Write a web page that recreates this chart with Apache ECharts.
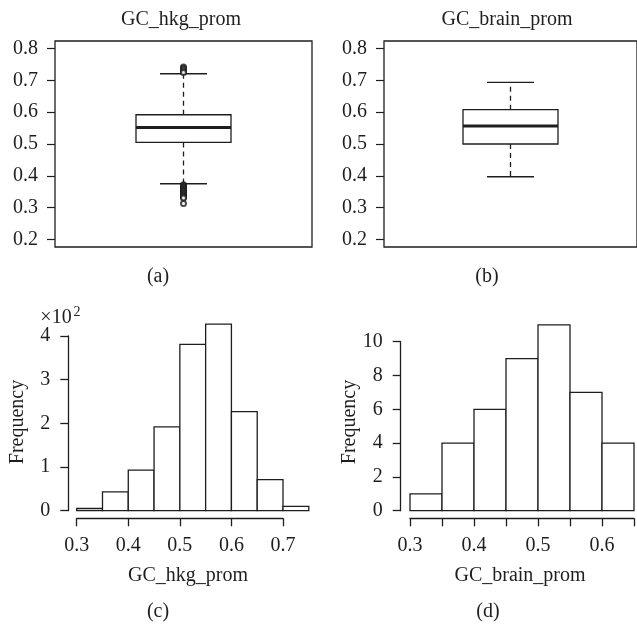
<!DOCTYPE html>
<html>
<head>
<meta charset="utf-8">
<script src="https://cdn.jsdelivr.net/npm/echarts@6/dist/echarts.min.js"></script>
<style>html,body{margin:0;padding:0;background:#fff}#c{width:637px;height:628px}</style>
</head>
<body>
<div id="c"></div>
<script>
// ---- data ----
const boxTitles = ['GC_hkg_prom', 'GC_brain_prom'];
// [min whisker, Q1, median, Q3, max whisker]
const hkgBox = [0.375, 0.505, 0.552, 0.592, 0.721];
const brainBox = [0.397, 0.500, 0.557, 0.608, 0.694];
const hkgOutliers = [0.742, 0.738, 0.734, 0.729, 0.725, 0.372, 0.369, 0.366, 0.363, 0.360, 0.357, 0.354, 0.351, 0.348, 0.345, 0.342, 0.339, 0.336, 0.333, 0.330, 0.313];
const boxTicks = [0.2, 0.3, 0.4, 0.5, 0.6, 0.7, 0.8];

const hkgBinEdges = [0.30, 0.35, 0.40, 0.45, 0.50, 0.55, 0.60, 0.65, 0.70, 0.75];
const hkgCounts = [5, 43, 93, 192, 381, 427, 227, 71, 10];
const brainBinEdges = [0.30, 0.35, 0.40, 0.45, 0.50, 0.55, 0.60, 0.65];
const brainCounts = [1, 4, 6, 9, 11, 7, 4];

// ---- styles ----
const INK = '#1e1e1e';
const FONT = '"Liberation Serif", "DejaVu Serif", serif';
const FS = 20;

function histData(edges, counts) {
  return counts.map((c, i) => [edges[i], edges[i + 1], c]);
}

function renderHist(params, api) {
  const p0 = api.coord([api.value(0), api.value(2)]);
  const p1 = api.coord([api.value(1), 0]);
  return {
    type: 'rect',
    shape: { x: p0[0], y: p0[1], width: p1[0] - p0[0], height: p1[1] - p0[1] },
    style: { fill: '#fff', stroke: INK, lineWidth: 1.3 }
  };
}

function renderBox(params, api) {
  const x = api.value(0);
  const pMin = api.coord([x, api.value(1)]);
  const pQ1 = api.coord([x, api.value(2)]);
  const pMed = api.coord([x, api.value(3)]);
  const pQ3 = api.coord([x, api.value(4)]);
  const pMax = api.coord([x, api.value(5)]);
  const cx = pMed[0];
  const hw = 47.5, cw = 23.5;
  const solid = { stroke: INK, lineWidth: 1.3 };
  const dashed = { stroke: INK, lineWidth: 1.3, lineDash: [5, 4] };
  return {
    type: 'group',
    children: [
      { type: 'line', shape: { x1: cx, y1: pQ3[1], x2: cx, y2: pMax[1] }, style: dashed },
      { type: 'line', shape: { x1: cx, y1: pQ1[1], x2: cx, y2: pMin[1] }, style: dashed },
      { type: 'line', shape: { x1: cx - cw, y1: pMax[1], x2: cx + cw, y2: pMax[1] }, style: solid },
      { type: 'line', shape: { x1: cx - cw, y1: pMin[1], x2: cx + cw, y2: pMin[1] }, style: solid },
      { type: 'rect', shape: { x: cx - hw, y: pQ3[1], width: 2 * hw, height: pQ1[1] - pQ3[1] }, style: { fill: '#fff', stroke: INK, lineWidth: 1.3 } },
      { type: 'line', shape: { x1: cx - hw, y1: pMed[1], x2: cx + hw, y2: pMed[1] }, style: { stroke: INK, lineWidth: 3 } }
    ]
  };
}

const labelStyle = { color: INK, fontFamily: FONT, fontSize: FS };

function boxYAxis(gi) {
  return {
    type: 'value', gridIndex: gi, min: 0.176, max: 0.824, position: 'left',
    axisLine: { show: false, onZero: false },
    splitLine: { show: false },
    axisTick: { show: true, length: 8, customValues: boxTicks, lineStyle: { color: INK, width: 1.2 } },
    axisLabel: Object.assign({ customValues: boxTicks, margin: 17, formatter: v => v.toFixed(1) }, labelStyle)
  };
}
function boxXAxis(gi) {
  return { type: 'value', gridIndex: gi, min: -1, max: 1, show: false, axisLine: { onZero: false } };
}

const chart = echarts.init(document.getElementById('c'), null, { renderer: 'canvas' });

function txt(text, x, y, extra) {
  return Object.assign({
    type: 'text', x: x, y: y,
    style: { text: text, fill: INK, font: FS + 'px ' + FONT, align: 'center', verticalAlign: 'middle' }
  }, extra || {});
}

chart.setOption({
  animation: false,
  backgroundColor: '#fff',
  grid: [
    { left: 55, top: 41, width: 257, height: 206, show: true, borderColor: INK, borderWidth: 1.3, backgroundColor: 'transparent' },
    { left: 384, top: 41, width: 257, height: 206, show: true, borderColor: INK, borderWidth: 1.3, backgroundColor: 'transparent' },
    { left: 76.7, top: 336, width: 206.3, height: 174.7 },
    { left: 410, top: 341.7, width: 232.2, height: 169 }
  ],
  xAxis: [
    boxXAxis(0), boxXAxis(1),
    {
      type: 'value', gridIndex: 2, min: 0.3, max: 0.7, interval: 0.1, offset: 7.6, position: 'bottom',
      splitLine: { show: false },
      axisLine: { onZero: false, lineStyle: { color: INK, width: 1.3 } },
      axisTick: { length: 8, lineStyle: { color: INK, width: 1.3 } },
      axisLabel: Object.assign({ margin: 17, formatter: v => v.toFixed(1) }, labelStyle)
    },
    {
      type: 'value', gridIndex: 3, min: 0.3, max: 0.65, interval: 0.05, offset: 7.6, position: 'bottom',
      splitLine: { show: false },
      axisLine: { onZero: false, lineStyle: { color: INK, width: 1.3 } },
      axisTick: { length: 8, lineStyle: { color: INK, width: 1.3 } },
      axisLabel: Object.assign({ margin: 17, formatter: v => { const k = Math.round(v * 100); return k % 10 === 0 ? (k / 100).toFixed(1) : ''; } }, labelStyle)
    }
  ],
  yAxis: [
    boxYAxis(0), boxYAxis(1),
    {
      type: 'value', gridIndex: 2, min: 0, max: 400, interval: 100, offset: 8.4, position: 'left',
      splitLine: { show: false },
      axisLine: { show: true, onZero: false, lineStyle: { color: INK, width: 1.3 } },
      axisTick: { show: true, length: 8, lineStyle: { color: INK, width: 1.3 } },
      axisLabel: Object.assign({ margin: 18, formatter: v => String(v / 100) }, labelStyle)
    },
    {
      type: 'value', gridIndex: 3, min: 0, max: 10, interval: 2, offset: 9.3, position: 'left',
      splitLine: { show: false },
      axisLine: { show: true, onZero: false, lineStyle: { color: INK, width: 1.3 } },
      axisTick: { show: true, length: 8, lineStyle: { color: INK, width: 1.3 } },
      axisLabel: Object.assign({ margin: 18 }, labelStyle)
    }
  ],
  series: [
    { type: 'custom', xAxisIndex: 0, yAxisIndex: 0, renderItem: renderBox, encode: { x: 0, y: [1, 2, 3, 4, 5] }, data: [[0].concat(hkgBox)], z: 2 },
    { type: 'scatter', xAxisIndex: 0, yAxisIndex: 0, symbol: 'emptyCircle', symbolSize: 5, itemStyle: { color: INK, borderColor: INK, borderWidth: 1.2 }, data: hkgOutliers.map(v => [0, v]), z: 3 },
    { type: 'custom', xAxisIndex: 1, yAxisIndex: 1, renderItem: renderBox, encode: { x: 0, y: [1, 2, 3, 4, 5] }, data: [[0].concat(brainBox)], z: 2 },
    { type: 'custom', xAxisIndex: 2, yAxisIndex: 2, renderItem: renderHist, clip: false, encode: { x: [0, 1], y: 2 }, data: histData(hkgBinEdges, hkgCounts) },
    { type: 'custom', xAxisIndex: 3, yAxisIndex: 3, renderItem: renderHist, clip: false, encode: { x: [0, 1], y: 2 }, data: histData(brainBinEdges, brainCounts) }
  ],
  graphic: [
    txt(boxTitles[0], 181, 20),
    txt(boxTitles[1], 507, 20),
    txt('(a)', 158, 277),
    txt('(b)', 487, 277),
    txt('×10', 56, 318),
    { type: 'text', x: 77, y: 312, style: { text: '2', fill: INK, font: '14px ' + FONT, align: 'center', verticalAlign: 'middle' } },
    txt('Frequency', 18, 422, { rotation: Math.PI / 2 }),
    txt('Frequency', 350, 422, { rotation: Math.PI / 2 }),
    txt(boxTitles[0], 188, 576),
    txt(boxTitles[1], 520, 576),
    txt('(c)', 158, 612),
    txt('(d)', 488, 612)
  ]
});
</script>
</body>
</html>
